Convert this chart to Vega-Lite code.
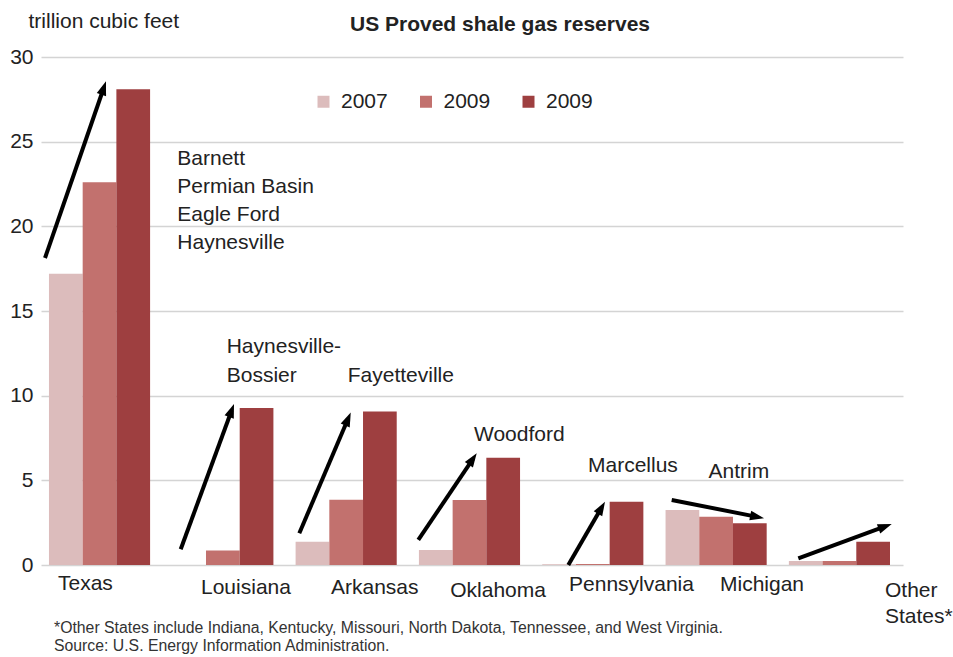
{
  "$schema": "https://vega.github.io/schema/vega-lite/v6.json",
  "width": 862,
  "height": 508,
  "autosize": {"type": "none"},
  "padding": {"left": 41, "top": 57, "right": 50, "bottom": 92},
  "background": "white",
  "config": {
    "view": {"stroke": null},
    "font": "Liberation Sans"
  },
  "title": {
    "text": "US Proved shale gas reserves",
    "fontSize": 21,
    "fontWeight": "bold",
    "color": "#222222",
    "font": "Liberation Sans",
    "anchor": "middle",
    "dx": 28,
    "offset": -42,
    "baseline": "alphabetic"
  },
  "datasets": {
    "reserves": [
      {"state": "Texas", "series": "2007", "tcf": 17.2},
      {"state": "Texas", "series": "2009", "tcf": 22.6},
      {"state": "Texas", "series": "2009b", "tcf": 28.1},
      {"state": "Louisiana", "series": "2007", "tcf": 0},
      {"state": "Louisiana", "series": "2009", "tcf": 0.85},
      {"state": "Louisiana", "series": "2009b", "tcf": 9.27},
      {"state": "Arkansas", "series": "2007", "tcf": 1.38},
      {"state": "Arkansas", "series": "2009", "tcf": 3.85},
      {"state": "Arkansas", "series": "2009b", "tcf": 9.07},
      {"state": "Oklahoma", "series": "2007", "tcf": 0.89},
      {"state": "Oklahoma", "series": "2009", "tcf": 3.84},
      {"state": "Oklahoma", "series": "2009b", "tcf": 6.34},
      {"state": "Pennsylvania", "series": "2007", "tcf": 0.05},
      {"state": "Pennsylvania", "series": "2009", "tcf": 0.06},
      {"state": "Pennsylvania", "series": "2009b", "tcf": 3.74},
      {"state": "Michigan", "series": "2007", "tcf": 3.25},
      {"state": "Michigan", "series": "2009", "tcf": 2.85},
      {"state": "Michigan", "series": "2009b", "tcf": 2.46},
      {"state": "Other States*", "series": "2007", "tcf": 0.24},
      {"state": "Other States*", "series": "2009", "tcf": 0.24},
      {"state": "Other States*", "series": "2009b", "tcf": 1.38}
    ],
    "arrows": [
      {"state": "Texas", "x0": -0.4419, "y0": 18.13, "x1": 0.0341, "y1": 28.17, "angle": 19.06},
      {"state": "Louisiana", "x0": 0.6585, "y0": 0.928, "x1": 1.0712, "y1": 9.125, "angle": 20.15},
      {"state": "Arkansas", "x0": 1.6202, "y0": 1.8735, "x1": 2.0148, "y1": 8.6206, "angle": 23.09},
      {"state": "Oklahoma", "x0": 2.5851, "y0": 1.4775, "x1": 3.027, "y1": 6.258, "angle": 33.96},
      {"state": "Pennsylvania", "x0": 3.8015, "y0": 0.0, "x1": 4.0706, "y1": 3.383, "angle": 30.11},
      {"state": "Michigan", "x0": 4.64, "y0": 3.8416, "x1": 5.3327, "y1": 2.8404, "angle": 101.21},
      {"state": "Other States*", "x0": 5.6666, "y0": 0.396, "x1": 6.3707, "y1": 2.2807, "angle": 69.84}
    ],
    "labels": [
      {"text": "Barnett", "x": 0.6309, "y": 23.6},
      {"text": "Permian Basin", "x": 0.6309, "y": 21.97},
      {"text": "Eagle Ford", "x": 0.6309, "y": 20.29},
      {"text": "Haynesville", "x": 0.6309, "y": 18.66},
      {"text": "Haynesville-", "x": 1.0315, "y": 12.547},
      {"text": "Bossier", "x": 1.0315, "y": 10.833},
      {"text": "Fayetteville", "x": 2.0126, "y": 10.833},
      {"text": "Woodford", "x": 3.0368, "y": 7.346},
      {"text": "Marcellus", "x": 3.9612, "y": 5.514},
      {"text": "Antrim", "x": 4.938, "y": 5.124},
      {"text": "Texas", "x": -0.3365, "y": -1.4775},
      {"text": "Louisiana", "x": 0.8231, "y": -1.714},
      {"text": "Arkansas", "x": 1.8773, "y": -1.714},
      {"text": "Oklahoma", "x": 2.8438, "y": -1.874},
      {"text": "Pennsylvania", "x": 3.8072, "y": -1.537},
      {"text": "Michigan", "x": 5.0316, "y": -1.537},
      {"text": "Other", "x": 6.3697, "y": -1.874},
      {"text": "States*", "x": 6.3697, "y": -3.446}
    ],
    "notes": [
      {"text": "*Other States include Indiana, Kentucky, Missouri, North Dakota, Tennessee, and West Virginia.", "x": -0.369, "y": -4.001},
      {"text": "Source: U.S. Energy Information Administration.", "x": -0.369, "y": -5.083}
    ]
  },
  "layer": [
    {
      "data": {"name": "reserves"},
      "mark": {"type": "bar"},
      "encoding": {
        "x": {
          "field": "state",
          "type": "nominal",
          "sort": null,
          "axis": null,
          "scale": {"paddingInner": 0.18, "paddingOuter": 0.085, "align": 0.38}
        },
        "xOffset": {
          "field": "series",
          "type": "nominal",
          "scale": {"paddingInner": 0, "paddingOuter": 0}
        },
        "y": {
          "field": "tcf",
          "type": "quantitative",
          "scale": {"domain": [0, 30], "nice": false},
          "axis": {
            "values": [0, 5, 10, 15, 20, 25, 30],
            "grid": true,
            "gridColor": "#d4d4d4",
            "gridWidth": 1.5,
            "domain": false,
            "ticks": false,
            "labelFontSize": 21,
            "labelPadding": 8,
            "labelColor": "#222222",
            "labelFont": "Liberation Sans",
            "title": "trillion cubic feet",
            "titleAngle": 0,
            "titleAlign": "left",
            "titleBaseline": "alphabetic",
            "titleX": -13,
            "titleY": -30,
            "titleFontSize": 21,
            "titleFontWeight": "normal",
            "titleColor": "#222222",
            "titleFont": "Liberation Sans"
          }
        },
        "color": {
          "field": "series",
          "type": "nominal",
          "scale": {"domain": ["2007", "2009", "2009b"], "range": ["#dcbcbc", "#c2716e", "#9e3f40"]},
          "legend": {
            "orient": "none",
            "legendX": 272,
            "legendY": 34,
            "direction": "horizontal",
            "title": null,
            "symbolType": "square",
            "symbolSize": 144,
            "symbolStrokeWidth": 0,
            "symbolOpacity": 1,
            "labelFontSize": 21,
            "labelFont": "Liberation Sans",
            "labelColor": "#222222",
            "labelOffset": 7,
            "columnPadding": 27.5,
            "labelExpr": "slice(datum.label, 0, 4)"
          }
        }
      }
    },
    {
      "layer": [
        {
          "data": {"name": "arrows"},
          "mark": {"type": "rule", "strokeWidth": 4, "color": "#000000", "strokeCap": "butt"},
          "encoding": {
            "x": {"field": "x0", "type": "quantitative", "scale": {"domain": [-0.4744, 6.5155], "nice": false, "zero": false}, "axis": null},
            "y": {"field": "y0", "type": "quantitative", "scale": {"domain": [0, 30], "nice": false}},
            "x2": {"field": "x1"},
            "y2": {"field": "y1"}
          }
        },
        {
          "data": {"name": "arrows"},
          "mark": {"type": "point", "shape": "M0,-1L0.7,1L-0.7,1Z", "filled": true, "color": "#000000", "size": 196, "opacity": 1, "strokeWidth": 0},
          "encoding": {
            "x": {"field": "x1", "type": "quantitative", "scale": {"domain": [-0.4744, 6.5155], "nice": false, "zero": false}, "axis": null},
            "y": {"field": "y1", "type": "quantitative", "scale": {"domain": [0, 30], "nice": false}},
            "angle": {"field": "angle", "type": "quantitative", "scale": null}
          }
        },
        {
          "data": {"name": "labels"},
          "mark": {"type": "text", "align": "left", "baseline": "alphabetic", "fontSize": 21, "color": "#222222", "font": "Liberation Sans"},
          "encoding": {
            "x": {"field": "x", "type": "quantitative", "scale": {"domain": [-0.4744, 6.5155], "nice": false, "zero": false}, "axis": null},
            "y": {"field": "y", "type": "quantitative", "scale": {"domain": [0, 30], "nice": false}},
            "text": {"field": "text"}
          }
        },
        {
          "data": {"name": "notes"},
          "mark": {"type": "text", "align": "left", "baseline": "alphabetic", "fontSize": 15.8, "color": "#333333", "font": "Liberation Sans"},
          "encoding": {
            "x": {"field": "x", "type": "quantitative", "scale": {"domain": [-0.4744, 6.5155], "nice": false, "zero": false}, "axis": null},
            "y": {"field": "y", "type": "quantitative", "scale": {"domain": [0, 30], "nice": false}},
            "text": {"field": "text"}
          }
        }
      ]
    }
  ],
  "resolve": {"scale": {"x": "independent"}}
}
